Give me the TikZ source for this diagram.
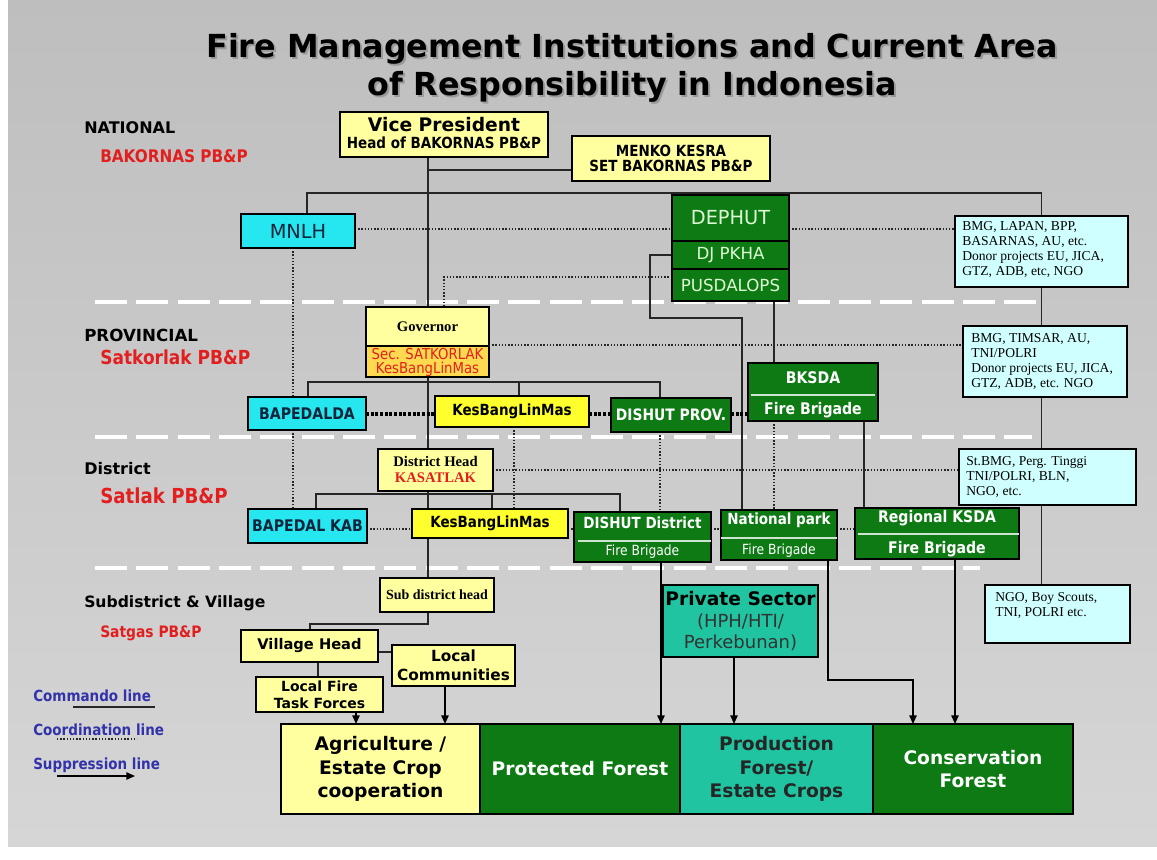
\documentclass[tikz,border=0pt]{standalone}
\usepackage{fontspec}
\setmainfont{DejaVu Sans}
\newfontfamily\narrowsans{DejaVu Sans}[FakeStretch=0.88]
\newfontfamily\timesface{Liberation Serif}
\usetikzlibrary{fit,arrows.meta}

\pgfdeclarelayer{canvas}
\pgfdeclarelayer{wires}
\pgfsetlayers{canvas,wires,main}

\definecolor{grtop}{RGB}{190,190,190}
\definecolor{grbot}{RGB}{214,214,214}
\definecolor{paleyel}{RGB}{255,255,160}
\definecolor{brightyel}{RGB}{255,255,46}
\definecolor{goldyel}{RGB}{255,218,80}
\definecolor{aqua}{RGB}{38,230,240}
\definecolor{paleaqua}{RGB}{208,255,255}
\definecolor{forest}{RGB}{14,122,20}
\definecolor{jade}{RGB}{32,196,160}
\definecolor{labelred}{RGB}{226,30,30}
\definecolor{legendblue}{RGB}{50,50,170}
\definecolor{mint}{RGB}{222,250,212}
\definecolor{inkblue}{RGB}{16,36,60}

\newcommand\fsz[2]{\fontsize{#1pt}{#2pt}\selectfont}

\tikzset{
  box/.style={draw=black, line width=0.9pt, inner sep=0pt, outer sep=0pt},
  greenbox/.style={box, fill=forest},
  infobox/.style={box, fill=paleaqua},
  infotext/.style={anchor=north west, inner sep=0pt, align=left, text=black, font=\timesface\fsz{10.2}{11.3}},
  txt/.style={inner sep=0pt, align=center},
  boldlabel/.style={txt, font=\narrowsans\bfseries\fsz{11.5}{13}},
  greentext/.style={txt, text=white, font=\narrowsans\bfseries\fsz{11.5}{13}},
  inner rule/.style={draw=white!80!forest, line width=0.8pt},
  command/.style={draw=black!85, line width=1.1pt},
  coordline/.style={draw=black!85, line width=1.2pt, dash pattern=on 1.1pt off 1.3pt},
  heavycoord/.style={draw=black, line width=2.6pt, dash pattern=on 2.3pt off 1.2pt},
  suppress/.style={draw=black, line width=1.2pt, -{Triangle[length=6.5pt,width=5.5pt]}},
  levelrule/.style={draw=white, line width=3pt, dash pattern=on 24pt off 7pt},
  levelname/.style={anchor=base west, inner sep=0pt, font=\bfseries\fsz{12}{14}},
  levelbody/.style={anchor=base west, inner sep=0pt, text=labelred, font=\narrowsans\bfseries\fsz{13}{15}},
  legendtext/.style={anchor=base west, inner sep=0pt, text=legendblue, font=\narrowsans\bfseries\fsz{11.5}{13}},
  bottomtext/.style={txt, font=\bfseries\fsz{14}{17.6}},
}

\begin{document}
\begin{tikzpicture}[x=0.75pt, y=-0.75pt]
\useasboundingbox (0,0) rectangle (1157,860);

% ---------- page and level separators ----------
\begin{pgfonlayer}{canvas}
  \fill[white] (0,0) rectangle (1157,860);
  \shade[top color=grtop, bottom color=grbot] (8,0) rectangle (1157,846);
  \draw[levelrule] (95,302) -- (1040,302);
  \draw[levelrule] (95,437) -- (1032,437);
  \draw[levelrule] (95,568) -- (980,568);
\end{pgfonlayer}

% ---------- title ----------
\node[anchor=base, inner sep=0pt, text=black!40, font=\bfseries\fsz{23.8}{28}] (title1s) at (634,59) {Fire Management Institutions and Current Area};
\node[anchor=base, inner sep=0pt, text=black!40, font=\bfseries\fsz{23.8}{28}] (title2s) at (634,97) {of Responsibility in Indonesia};
\node[anchor=base, inner sep=0pt, font=\bfseries\fsz{23.8}{28}] (title1) at (632,57) {Fire Management Institutions and Current Area};
\node[anchor=base, inner sep=0pt, font=\bfseries\fsz{23.8}{28}] (title2) at (632,95) {of Responsibility in Indonesia};

% ---------- level names ----------
\node[levelname] (lvl-nat) at (84,133) {NATIONAL};
\node[levelbody] (body-nat) at (100,162) {BAKORNAS PB\&P};
\node[levelname, font=\bfseries\fsz{12.5}{14}] (lvl-prov) at (84,341) {PROVINCIAL};
\node[levelbody, font=\narrowsans\bfseries\fsz{14.5}{16}] (body-prov) at (100,364) {Satkorlak PB\&P};
\node[levelname] (lvl-dist) at (84,474) {District};
\node[levelbody, font=\narrowsans\bfseries\fsz{15.5}{17}] (body-dist) at (100,503) {Satlak PB\&P};
\node[levelname, font=\bfseries\fsz{11.7}{14}] (lvl-vil) at (84,607) {Subdistrict \& Village};
\node[levelbody, font=\narrowsans\bfseries\fsz{11.8}{13}] (body-vil) at (100,637) {Satgas PB\&P};

% ---------- national ----------
\node[box, fill=paleyel, fit={(340,112) (548,157)}] (vp) {};
\node[txt, font=\bfseries\fsz{14}{16}] (vp-t1) at (444,125) {Vice President};
\node[txt, font=\narrowsans\bfseries\fsz{11.5}{13}] (vp-t2) at (444,143) {Head of BAKORNAS PB\&P};

\node[box, fill=paleyel, fit={(572,136) (770,181)}] (menko) {};
\node[boldlabel] (menko-t1) at (671,151) {MENKO KESRA};
\node[boldlabel] (menko-t2) at (671,166) {SET BAKORNAS PB\&P};

\node[box, fill=aqua, fit={(241,214) (355,248)}] (mnlh) {};
\node[txt, text=inkblue, font=\fsz{14.5}{16}] (mnlh-t) at (mnlh.center) {MNLH};

\node[greenbox, fit={(672,195) (789,241)}] (dephut) {};
\node[greenbox, fit={(672,241) (789,269)}] (djpkha) {};
\node[greenbox, fit={(672,269) (789,301)}] (pusdalops) {};
\node[txt, text=mint, font=\fsz{14.5}{16}] (dephut-t) at (dephut.center) {DEPHUT};
\node[txt, text=mint, font=\fsz{12.5}{14}] (djpkha-t) at (djpkha.center) {DJ PKHA};
\node[txt, text=mint, font=\fsz{12.5}{14}] (pusdalops-t) at (pusdalops.center) {PUSDALOPS};

\node[infobox, fit={(955,216) (1128,287)}] (rb1) {};
\node[infotext] (rb1-t) at (962,221) {BMG, LAPAN, BPP,\\BASARNAS, AU, etc.\\Donor projects EU, JICA,\\GTZ, ADB, etc, NGO};

% ---------- provincial ----------
\node[box, fill=paleyel, fit={(366,307) (489,346)}] (govtop) {};
\node[box, fill=goldyel, fit={(366,346) (489,377)}] (govbot) {};
\node[txt, font=\timesface\bfseries\fsz{11}{13}] (gov-t1) at (govtop.center) {Governor};
\node[txt, text=labelred, font=\narrowsans\fsz{11.3}{12}] (gov-t2) at (427.5,354) {Sec. SATKORLAK};
\node[txt, text=labelred, font=\narrowsans\fsz{11.3}{12}] (gov-t3) at (427.5,369) {KesBangLinMas};

\node[box, fill=aqua, fit={(248,397) (366,430)}] (bapedalda) {};
\node[txt, text=inkblue, font=\narrowsans\bfseries\fsz{12}{14}] (bapedalda-t) at (bapedalda.center) {BAPEDALDA};
\node[box, fill=brightyel, fit={(435,396) (589,427)}] (kbprov) {};
\node[txt, font=\narrowsans\bfseries\fsz{11.5}{13}] (kbprov-t) at (kbprov.center) {KesBangLinMas};
\node[greenbox, fit={(611,398) (731,432)}] (dishutprov) {};
\node[greentext, font=\narrowsans\bfseries\fsz{11.8}{13}] (dishutprov-t) at (dishutprov.center) {DISHUT PROV.};

\node[greenbox, fit={(748,363) (878,421)}] (bksda) {};
\node[greentext, font=\narrowsans\bfseries\fsz{12}{14}] (bksda-t1) at (813,378) {BKSDA};
\node[greentext, font=\narrowsans\bfseries\fsz{12}{14}] (bksda-t2) at (813,410) {Fire Brigade};
\draw[inner rule] ([xshift=2pt]bksda.west |- 0,395) -- ([xshift=-2pt]bksda.east |- 0,395);

\node[infobox, fit={(963,326) (1127,397)}] (rb2) {};
\node[infotext] (rb2-t) at (971,333) {BMG, TIMSAR, AU,\\TNI/POLRI\\Donor projects EU, JICA,\\GTZ, ADB, etc. NGO};

% ---------- district ----------
\node[box, fill=paleyel, fit={(378,449) (493,491)}] (dhead) {};
\node[txt, font=\timesface\bfseries\fsz{11}{13}] (dhead-t1) at (435.5,461) {District Head};
\node[txt, text=labelred, font=\timesface\bfseries\fsz{11}{13}] (dhead-t2) at (435.5,478) {KASATLAK};

\node[box, fill=aqua, fit={(248,509) (367,543)}] (bapedalkab) {};
\node[txt, text=inkblue, font=\narrowsans\bfseries\fsz{12}{14}] (bapedalkab-t) at (bapedalkab.center) {BAPEDAL KAB};
\node[box, fill=brightyel, fit={(412,509) (568,538)}] (kbdist) {};
\node[txt, font=\narrowsans\bfseries\fsz{11.5}{13}] (kbdist-t) at (kbdist.center) {KesBangLinMas};

\node[greenbox, fit={(574,512) (711,562)}] (dishutdist) {};
\node[greentext] (dishutdist-t1) at (642.5,523) {DISHUT District};
\node[greentext, font=\narrowsans\fsz{10.5}{12}] (dishutdist-t2) at (642.5,552) {Fire Brigade};
\draw[inner rule] ([xshift=3pt]dishutdist.west |- 0,541) -- (dishutdist.east |- 0,541);

\node[greenbox, fit={(721,510) (837,560)}] (natpark) {};
\node[greentext] (natpark-t1) at (779,520) {National park};
\node[greentext, font=\narrowsans\fsz{10.5}{12}] (natpark-t2) at (779,551) {Fire Brigade};
\draw[inner rule] (natpark.west |- 0,538) -- (natpark.east |- 0,538);

\node[greenbox, fit={(855,508) (1019,559)}] (rksda) {};
\node[greentext, font=\narrowsans\bfseries\fsz{12}{14}] (rksda-t1) at (937,518) {Regional KSDA};
\node[greentext, font=\narrowsans\bfseries\fsz{12}{14}] (rksda-t2) at (937,549) {Fire Brigade};
\draw[inner rule] ([xshift=2pt]rksda.west |- 0,534) -- (rksda.east |- 0,534);

\node[infobox, fit={(959,449) (1136,505)}] (rb3) {};
\node[infotext] (rb3-t) at (966,456) {St.BMG, Perg. Tinggi\\TNI/POLRI, BLN,\\NGO, etc.};

% ---------- subdistrict and village ----------
\node[box, fill=paleyel, fit={(380,578) (494,612)}] (subd) {};
\node[txt, font=\timesface\bfseries\fsz{10.5}{12}] (subd-t) at (subd.center) {Sub district head};
\node[box, fill=paleyel, fit={(241,630) (378,662)}] (vhead) {};
\node[txt, font=\bfseries\fsz{11}{13}] (vhead-t) at (vhead.center) {Village Head};
\node[box, fill=paleyel, fit={(392,645) (515,686)}] (lcomm) {};
\node[txt, font=\bfseries\fsz{11.5}{14}] (lcomm-t) at (lcomm.center) {Local\\Communities};
\node[box, fill=paleyel, fit={(256,677) (383,712)}] (lfire) {};
\node[txt, font=\bfseries\fsz{10.5}{12.5}] (lfire-t) at (lfire.center) {Local Fire\\Task Forces};

\node[box, fill=jade, fit={(663,585) (818,657)}] (private) {};
\node[txt, font=\bfseries\fsz{14}{16}] (private-t1) at (740.5,599) {Private Sector};
\node[txt, text=black!80, font=\fsz{13.5}{16}] (private-t2) at (740.5,622) {(HPH/HTI/};
\node[txt, text=black!80, font=\fsz{13.5}{16}] (private-t3) at (740.5,643) {Perkebunan)};

\node[infobox, fit={(985,585) (1130,643)}] (rb4) {};
\node[infotext] (rb4-t) at (995,592) {NGO, Boy Scouts,\\TNI, POLRI etc.};

% ---------- land categories ----------
\node[box, fill=paleyel, fit={(281,724) (480,814)}] (agri) {};
\node[bottomtext] (agri-t) at (agri.center) {Agriculture /\\Estate Crop\\cooperation};
\node[box, fill=forest, fit={(480,724) (680,814)}] (protf) {};
\node[bottomtext, text=white] (protf-t) at (protf.center) {Protected Forest};
\node[box, fill=jade, fit={(680,724) (873,814)}] (prodf) {};
\node[bottomtext, text=black!85] (prodf-t) at (prodf.center) {Production\\Forest/\\Estate Crops};
\node[box, fill=forest, fit={(873,724) (1073,814)}] (consf) {};
\node[bottomtext, text=white] (consf-t) at (consf.center) {Conservation\\Forest};

% ---------- legend ----------
\node[legendtext] (leg-cmd) at (33,701) {Commando line};
\node[legendtext] (leg-coord) at (33,735) {Coordination line};
\node[legendtext] (leg-supp) at (33,769) {Suppression line};
\coordinate (leg-cmd-a) at (73,707);
\coordinate (leg-cmd-b) at (155,707);
\coordinate (leg-coord-a) at (57,739);
\coordinate (leg-coord-b) at (137,739);
\coordinate (leg-supp-a) at (57,776);
\coordinate (leg-supp-b) at (135,776);
\draw[command] (leg-cmd-a) -- (leg-cmd-b);
\draw[coordline] (leg-coord-a) -- (leg-coord-b);
\draw[suppress] (leg-supp-a) -- (leg-supp-b);

% ---------- connectors ----------
\begin{pgfonlayer}{wires}
  % guide positions of vertical runs and horizontal buses
  \coordinate (spine) at (428,0);
  \coordinate (x-mnlh) at (307,0);
  \coordinate (x-mnlhdot) at (293,0);
  \coordinate (x-djdrop) at (650,0);
  \coordinate (x-np) at (742,0);
  \coordinate (x-pus) at (774,0);
  \coordinate (x-bk) at (864,0);
  \coordinate (x-pusdot) at (444,0);
  \coordinate (x-pb1) at (308,0);
  \coordinate (x-pb2) at (519,0);
  \coordinate (x-pb3) at (660,0);
  \coordinate (x-kbdot) at (514,0);
  \coordinate (x-db1) at (316,0);
  \coordinate (x-db2) at (492,0);
  \coordinate (x-db3) at (620,0);
  \coordinate (x-vil) at (310,0);
  \coordinate (x-lf) at (318,0);
  \coordinate (x-a1) at (356,0);
  \coordinate (x-a2) at (445,0);
  \coordinate (x-a3) at (661,0);
  \coordinate (x-a4) at (734,0);
  \coordinate (x-a5) at (828,0);
  \coordinate (x-a6) at (913,0);
  \coordinate (x-a7) at (955,0);
  \coordinate (y-vp) at (0,170);
  \coordinate (y-nat) at (0,193);
  \coordinate (y-natdot) at (0,229);
  \coordinate (y-dj) at (0,318);
  \coordinate (y-pusdot) at (0,277);
  \coordinate (y-govdot) at (0,345);
  \coordinate (y-prov) at (0,382);
  \coordinate (y-provdot) at (0,414);
  \coordinate (y-distdot) at (0,470);
  \coordinate (y-dist) at (0,494);
  \coordinate (y-distdot2) at (0,529);
  \coordinate (y-vil) at (0,624);
  \coordinate (y-vh) at (0,652);
  \coordinate (y-turn) at (0,680);

  % commando lines
  \draw[command] (vp.south -| spine) -- (govtop.north -| spine);
  \draw[command] (spine |- y-vp) -- (menko.west |- y-vp);
  \draw[command] (mnlh.north -| x-mnlh) -- (x-mnlh |- y-nat) -- (rb1.north |- y-nat) -- (rb1.north);
  \draw[command] (dephut.north) -- (dephut.north |- y-nat);
  \draw[command] (rb1.south) -- (rb1.south |- rb2.north);
  \draw[command] (rb1.south |- rb2.south) -- (rb1.south |- rb3.north);
  \draw[command] (rb1.south |- rb3.south) -- (rb1.south |- rb4.north);
  \draw[command] (djpkha.west) -- (x-djdrop |- djpkha.west) -- (x-djdrop |- y-dj) -- (x-np |- y-dj) -- (natpark.north -| x-np);
  \draw[command] (pusdalops.south -| x-pus) -- (bksda.north -| x-pus);
  \draw[command] (bksda.south -| x-bk) -- (rksda.north -| x-bk);
  \draw[command] (govbot.south -| spine) -- (dhead.north -| spine);
  \draw[command] (bapedalda.north -| x-pb1) -- (x-pb1 |- y-prov) -- (x-pb3 |- y-prov) -- (dishutprov.north -| x-pb3);
  \draw[command] (x-pb2 |- y-prov) -- (kbprov.north -| x-pb2);
  \draw[command] (dhead.south -| spine) -- (subd.north -| spine);
  \draw[command] (bapedalkab.north -| x-db1) -- (x-db1 |- y-dist) -- (x-db3 |- y-dist) -- (dishutdist.north -| x-db3);
  \draw[command] (x-db2 |- y-dist) -- (kbdist.north -| x-db2);
  \draw[command] (subd.south -| spine) -- (spine |- y-vil) -- (x-vil |- y-vil) -- (vhead.north -| x-vil);
  \draw[command] (vhead.east |- y-vh) -- (lcomm.west |- y-vh);
  \draw[command] (vhead.south -| x-lf) -- (lfire.north -| x-lf);

  % coordination lines
  \draw[coordline] (mnlh.east |- y-natdot) -- (dephut.west |- y-natdot);
  \draw[coordline] (dephut.east |- y-natdot) -- (rb1.west |- y-natdot);
  \draw[coordline] (mnlh.south -| x-mnlhdot) -- (bapedalda.north -| x-mnlhdot);
  \draw[coordline] (bapedalda.south -| x-mnlhdot) -- (bapedalkab.north -| x-mnlhdot);
  \draw[coordline] (pusdalops.west |- y-pusdot) -- (x-pusdot |- y-pusdot) -- (govtop.north -| x-pusdot);
  \draw[coordline] (govtop.east |- y-govdot) -- (rb2.west |- y-govdot);
  \draw[heavycoord] (bapedalda.east |- y-provdot) -- (kbprov.west |- y-provdot);
  \draw[heavycoord] (kbprov.east |- y-provdot) -- (dishutprov.west |- y-provdot);
  \draw[heavycoord] (dishutprov.east |- y-provdot) -- (bksda.west |- y-provdot);
  \draw[coordline] (kbprov.south -| x-kbdot) -- (kbdist.north -| x-kbdot);
  \draw[coordline] (dishutprov.south -| x-pb3) -- (dishutdist.north -| x-pb3);
  \draw[coordline] (bksda.south -| x-pus) -- (natpark.north -| x-pus);
  \draw[coordline] (dhead.east |- y-distdot) -- (rb3.west |- y-distdot);
  \draw[coordline] (bapedalkab.east |- y-distdot2) -- (kbdist.west |- y-distdot2);
  \draw[coordline] (kbdist.east |- y-distdot2) -- (dishutdist.west |- y-distdot2);
  \draw[coordline] (dishutdist.east |- y-distdot2) -- (natpark.west |- y-distdot2);
  \draw[coordline] (natpark.east |- y-distdot2) -- (rksda.west |- y-distdot2);
\end{pgfonlayer}

% suppression lines
\draw[suppress] (lfire.south -| x-a1) -- (agri.north -| x-a1);
\draw[suppress] (lcomm.south -| x-a2) -- (agri.north -| x-a2);
\draw[suppress] (dishutdist.south -| x-a3) -- (protf.north -| x-a3);
\draw[suppress] (private.south -| x-a4) -- (prodf.north -| x-a4);
\draw[suppress] (natpark.south -| x-a5) -- (x-a5 |- y-turn) -- (x-a6 |- y-turn) -- (consf.north -| x-a6);
\draw[suppress] (rksda.south -| x-a7) -- (consf.north -| x-a7);
\end{tikzpicture}
\end{document}
